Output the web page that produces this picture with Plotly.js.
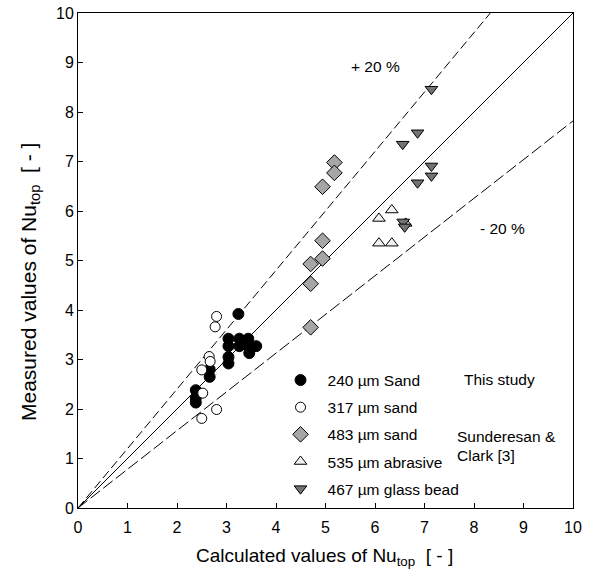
<!DOCTYPE html>
<html>
<head>
<meta charset="utf-8">
<script src="https://cdn.plot.ly/plotly-3.0.1.min.js"></script>
<style>body{margin:0;padding:0;background:#fff}#chart{width:593px;height:576px}</style>
</head>
<body>
<div id="chart"></div>
<script>
// 240 um Sand (this study)
const sand240X = [3.24, 3.04, 3.04, 3.26, 3.26, 3.44, 3.44, 3.60, 3.46, 3.04, 3.04, 2.66, 2.66, 2.38, 2.38, 2.38];
const sand240Y = [3.92, 3.42, 3.27, 3.42, 3.27, 3.42, 3.27, 3.27, 3.13, 3.05, 2.92, 2.80, 2.65, 2.38, 2.22, 2.13];
// 317 um sand
const sand317X = [2.80, 2.77, 2.65, 2.67, 2.50, 2.52, 2.80, 2.50];
const sand317Y = [3.87, 3.66, 3.06, 2.96, 2.79, 2.32, 1.99, 1.81];
// 483 um sand
const sand483X = [5.18, 5.18, 4.94, 4.94, 4.94, 4.70, 4.70, 4.70];
const sand483Y = [6.98, 6.77, 6.49, 5.40, 5.04, 4.93, 4.53, 3.65];
// 535 um abrasive
const abr535X = [6.08, 6.34, 6.08, 6.34, 6.62];
const abr535Y = [5.85, 6.02, 5.35, 5.35, 5.75];
// 467 um glass bead
const glass467X = [7.14, 6.86, 6.56, 7.14, 7.14, 6.86, 6.57, 6.60];
const glass467Y = [8.46, 7.58, 7.35, 6.91, 6.71, 6.57, 5.78, 5.68];
// reference lines
const lineX = [0, 10];
const parityY = [0, 10];
const plus20X = [0, 8.33];
const plus20Y = [0, 10];
const minus20X = [0, 10];
const minus20Y = [0, 7.82];

const legendNames = ['240 \u00b5m Sand', '317 \u00b5m sand', '483 \u00b5m sand', '535 \u00b5m abrasive', '467 \u00b5m glass bead'];
const tickVals = [0,1,2,3,4,5,6,7,8,9,10];
const xTitle = 'Calculated values of Nu<sub>top</sub>  [ - ]';
const yTitle = 'Measured values of Nu<sub>top</sub>  [ - ]';

const lineTr = (x, y, dash) => ({x, y, type:'scatter', mode:'lines', showlegend:false, hoverinfo:'skip',
  line:{color:'#000', width:1, dash}});
const ptTr = (x, y, name, symbol, fill, size, g) => ({x, y, name, type:'scatter', mode:'markers', legendgroup:g,
  marker:{symbol, color:fill, size, line:{color:'#000', width:1}}});

const data = [
  lineTr(lineX, parityY, 'solid'),
  lineTr(plus20X, plus20Y, '9px,4px'),
  lineTr(minus20X, minus20Y, '12px,4px'),
  ptTr(sand240X, sand240Y, legendNames[0], 'circle', '#000', 11, 'a'),
  ptTr(sand317X, sand317Y, legendNames[1], 'circle', '#fff', 10, 'b'),
  ptTr(sand483X, sand483Y, legendNames[2], 'diamond', '#a6a6a6', 12, 'c'),
  ptTr(abr535X, abr535Y, legendNames[3], 'triangle-up', '#f2f2f2', 11, 'd'),
  ptTr(glass467X, glass467Y, legendNames[4], 'triangle-down', '#737373', 11, 'e'),
];

const fam = 'Liberation Sans, Arial, sans-serif';
const axis = (standoff) => ({range:[0,10], tickvals:tickVals, ticks:'inside', ticklen:5, tickcolor:'#000', tickwidth:1,
  showgrid:false, zeroline:false, showline:true, mirror:true, linecolor:'#000', linewidth:1,
  ticklabelstandoff:standoff,
  tickfont:{size:16, family:fam, color:'#000'}});

const pw = 593 - 78 - 20, ph = 576 - 13 - 68;
const layout = {
  width:593, height:576,
  margin:{l:78, r:20, t:13, b:68},
  paper_bgcolor:'#fff', plot_bgcolor:'#fff',
  font:{family:fam, color:'#000'},
  xaxis: axis(5),
  yaxis: axis(0),
  legend:{x:0.395, y:0.292, xanchor:'left', yanchor:'top', bgcolor:'rgba(0,0,0,0)', itemwidth:44,
    font:{size:15.5, family:fam, color:'#000'}, tracegroupgap:4, itemsizing:'trace'},
  annotations:[
    {x:(324-78)/pw, y:(508-557)/ph, xref:'paper', yref:'paper', xanchor:'center', yanchor:'middle',
      text:xTitle, showarrow:false, font:{size:19}},
    {x:(30-78)/pw, y:(508-282)/ph, xref:'paper', yref:'paper', xanchor:'center', yanchor:'middle',
      text:yTitle, showarrow:false, textangle:-90, font:{size:21}},
    {x:6.0, y:8.91, xref:'x', yref:'y', text:'+ 20 %', showarrow:false, font:{size:15.5}},
    {x:8.57, y:5.64, xref:'x', yref:'y', text:'- 20 %', showarrow:false, font:{size:15.5}},
    {x:7.76, y:2.59, xref:'x', yref:'y', text:'This study', showarrow:false, xanchor:'left', font:{size:15.5}},
    {x:7.62, y:1.45, xref:'x', yref:'y', text:'Sunderesan &', showarrow:false, xanchor:'left', font:{size:15.5}},
    {x:7.62, y:1.07, xref:'x', yref:'y', text:'Clark [3]', showarrow:false, xanchor:'left', font:{size:15.5}},
  ]
};
Plotly.newPlot('chart', data, layout, {displayModeBar:false, staticPlot:true});
</script>
</body>
</html>
